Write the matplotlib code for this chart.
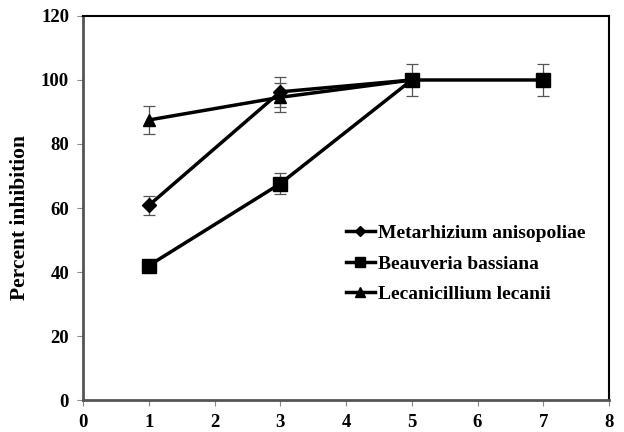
import matplotlib.pyplot as plt

# inhibition (%) over time for three entomopathogenic fungi
days = [1, 3, 5]
days_b = [1, 3, 5, 7]
metarhizium = [60.8, 96.3, 100]
metarhizium_err = [3.0, 4.6, 0]
beauveria = [42.0, 67.6, 100, 100]
beauveria_err = [1.0, 3.3, 5.0, 5.0]
lecanicillium = [87.5, 94.6, 100]
lecanicillium_err = [4.4, 4.6, 0]

plt.rcParams['font.family'] = ['Liberation Serif', 'DejaVu Serif']

fig = plt.figure(figsize=(6.24, 4.32), dpi=100)
ax = fig.add_axes([0.133, 0.074, 0.843, 0.889])

err_kw = dict(ecolor='#555555', elinewidth=0.9, capsize=4, capthick=0.9)
ax.errorbar(days, metarhizium, yerr=metarhizium_err, color='black', lw=2.5,
            marker='D', ms=7, label='Metarhizium anisopoliae', **err_kw)
ax.errorbar(days_b, beauveria, yerr=beauveria_err, color='black', lw=2.5,
            marker='s', ms=10, label='Beauveria bassiana', **err_kw)
ax.errorbar(days, lecanicillium, yerr=lecanicillium_err, color='black', lw=2.5,
            marker='^', ms=9, label='Lecanicillium lecanii', **err_kw)

ax.set_xlim(0, 8)
ax.set_ylim(0, 120)
ax.set_xticks(range(0, 9))
ax.set_yticks(range(0, 121, 20))
ax.tick_params(direction='out', length=4, width=0.8, color='#888888',
               labelsize=13.5, pad=6)
for lab in ax.get_xticklabels() + ax.get_yticklabels():
    lab.set_fontweight('bold')

for side in ['left', 'bottom']:
    ax.spines[side].set_color('#555555')
    ax.spines[side].set_linewidth(2)
for side in ['top', 'right']:
    ax.spines[side].set_color('black')
    ax.spines[side].set_linewidth(1.5)

ax.set_ylabel('Percent inhibition', fontsize=15.5, fontweight='bold')
ax.yaxis.set_label_coords(-0.1, 0.474)

# legend with markers and no error bars
handles, labels = ax.get_legend_handles_labels()
handles = [h[0] for h in handles]
leg = ax.legend(handles, labels, loc='center left', bbox_to_anchor=(0.466, 0.355),
                frameon=False, handlelength=1.5, handletextpad=0.15,
                labelspacing=0.65, markerscale=0.75,
                prop={'weight': 'bold', 'size': 14})

fig.savefig('out.png', dpi=100)
